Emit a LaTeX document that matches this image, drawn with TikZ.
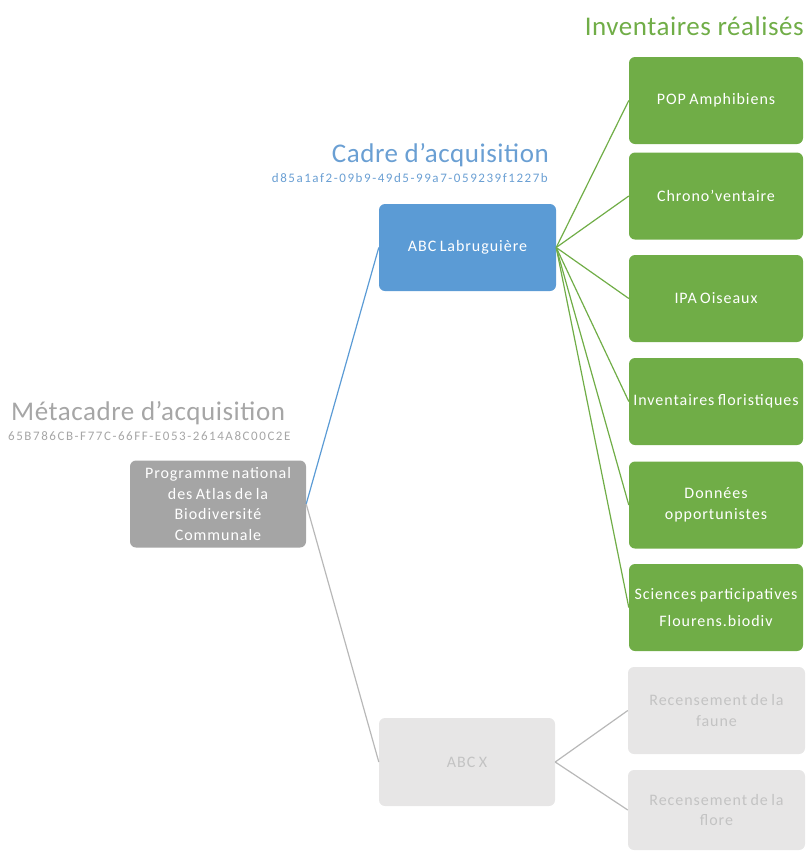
\documentclass[tikz,border=0pt]{standalone}
\usepackage{fontspec}
\setmainfont{Carlito}
\newfontfamily\boxfont[LetterSpace=6,WordSpace=0.75]{Carlito}
\newfontfamily\titlefont[LetterSpace=2]{Carlito}
\newfontfamily\idfont[LetterSpace=12]{Carlito}
\definecolor{mgray}{HTML}{A5A5A5}
\definecolor{mblue}{HTML}{5B9BD5}
\definecolor{mgreen}{HTML}{70AD47}
\definecolor{lgray}{HTML}{E7E6E6}
\definecolor{ltext}{HTML}{C3C3C3}
\definecolor{tgray}{HTML}{A6A6A6}
\definecolor{tblue}{HTML}{6A9FD3}
\definecolor{lline}{HTML}{B8B8B8}
\begin{document}
\begin{tikzpicture}[x=1pt,y=-1pt,
  box/.style={rectangle, rounded corners=6pt, inner sep=0pt, align=center,
    minimum width=176pt, minimum height=87pt,
    font=\boxfont\fontsize{16}{20.5}\selectfont, text=white},
  progbox/.style={box, fill=mgray},
  cadrebox/.style={box, fill=mblue},
  invbox/.style={box, fill=mgreen, minimum width=174pt},
  otherbox/.style={box, fill=lgray, text=ltext},
  bigtitle/.style={inner sep=0pt, font=\titlefont\fontsize{27}{30}\selectfont},
  idtext/.style={inner sep=0pt, font=\idfont\fontsize{13}{15}\selectfont},
  gline/.style={draw=lline, line width=1.2pt},
  bline/.style={draw=mblue, line width=1.2pt},
  grline/.style={draw=mgreen, line width=1.2pt}
]
\useasboundingbox (0,0) rectangle (807,852);

% titles
\node[bigtitle, text=tgray, anchor=base west] (t1) at (11,420) {Métacadre d’acquisition};
\node[idtext, text=tgray, anchor=base west] (id1) at (8,440) {65B786CB-F77C-66FF-E053-2614A8C00C2E};
\node[bigtitle, text=tblue, anchor=base east] (t2) at (549,162) {Cadre d’acquisition};
\node[idtext, text=tblue, anchor=base east] (id2) at (548,182) {d85a1af2-09b9-49d5-99a7-059239f1227b};
\node[bigtitle, text=mgreen, anchor=base east] (t3) at (804,35) {Inventaires réalisés};

% boxes
\node[progbox] (prog) at (218,504) {Programme national\\des Atlas de la\\Biodiversité\\Communale};
\node[cadrebox, minimum width=177pt] (abcl) at (467.5,247.5) {ABC Labruguière};
\node[otherbox, minimum height=88pt] (abcx) at (467,762) {ABC X};

\node[invbox] (i1) at (716,100.5) {POP Amphibiens};
\node[invbox] (i2) at (716,196) {Chrono’ventaire};
\node[invbox] (i3) at (716,298.5) {IPA Oiseaux};
\node[invbox] (i4) at (716,401.5) {Inventaires floristiques};
\node[invbox] (i5) at (716,505) {Données\\opportunistes};
\node[invbox] (i6) at (716,607.5) {Sciences participatives\\[6.5pt]Flourens.biodiv};

\node[otherbox, minimum width=177pt] (r1) at (716.5,710.5) {Recensement de la\\faune};
\node[otherbox, minimum width=177pt, minimum height=80pt] (r2) at (716.5,810) {Recensement de la\\flore};

% connectors
\draw[bline] (prog.east) -- (abcl.west);
\draw[gline] (prog.east) -- (abcx.west);
\foreach \n in {i1,i2,i3,i4,i5,i6} {
  \draw[grline] (abcl.east) -- (\n.west);
}
\draw[gline] (abcx.east) -- (r1.west);
\draw[gline] (abcx.east) -- (r2.west);
\end{tikzpicture}
\end{document}
